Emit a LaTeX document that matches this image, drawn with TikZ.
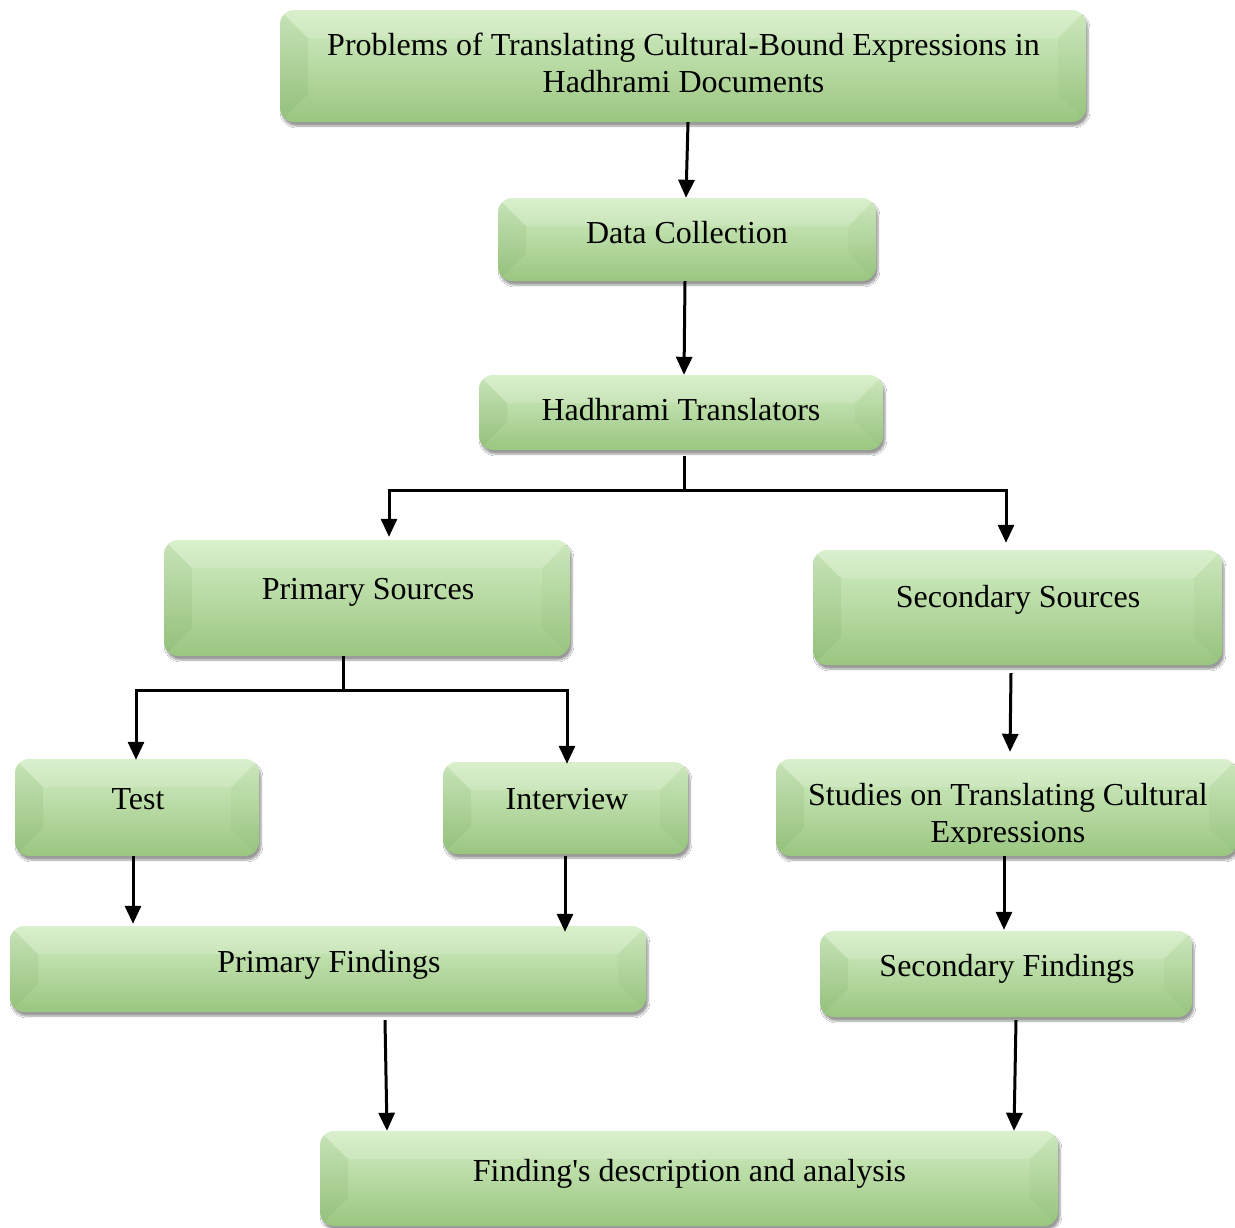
\documentclass[tikz,border=0pt]{standalone}
\usepackage{fontspec}
\setmainfont{Liberation Serif}
\usetikzlibrary{arrows.meta,shadows.blur}
\definecolor{gtop}{RGB}{212,238,197}
\definecolor{gbot}{RGB}{154,198,128}
\definecolor{gbev}{RGB}{90,140,70}
\tikzset{
  box/.style={rounded corners=14pt, top color=gtop, bottom color=gbot,
    draw=none, inner sep=0pt,
    blur shadow={shadow xshift=2pt,shadow yshift=-4pt,shadow blur steps=6,shadow opacity=40},
    path picture={
      \fill[sharp corners, gbev, opacity=0.10]
        (path picture bounding box.north west) -- ++(28pt,-28pt)
        -- ([xshift=28pt,yshift=28pt]path picture bounding box.south west)
        -- (path picture bounding box.south west) -- cycle;
      \fill[sharp corners, gbev, opacity=0.06]
        (path picture bounding box.north east) -- ++(-28pt,-28pt)
        -- ([xshift=-28pt,yshift=28pt]path picture bounding box.south east)
        -- (path picture bounding box.south east) -- cycle;
      \fill[sharp corners, white, opacity=0.15]
        (path picture bounding box.north west) -- (path picture bounding box.north east)
        -- ++(-28pt,-28pt) -- ([xshift=28pt,yshift=-28pt]path picture bounding box.north west) -- cycle;
    }},
  txt/.style={font=\fontsize{32}{37}\selectfont, align=center, inner sep=0pt},
  ln/.style={line width=3pt, line join=miter},
  arr/.style={ln, -{Triangle[length=18pt,width=16pt]}},
}
\begin{document}
\begin{tikzpicture}[x=1pt,y=-1pt]
\useasboundingbox[fill=white] (0,0) rectangle (1235,1227);

% boxes
\node[box, minimum width=806pt, minimum height=112pt] (top) at (683,66) {};
\node[txt, anchor=center] (top-t) at (683.5,63) {Problems of Translating Cultural-Bound Expressions in\\Hadhrami Documents};

\node[box, minimum width=378pt, minimum height=83pt] (data) at (687,239.5) {};
\node[txt, anchor=base] (data-t) at (687,243.5) {Data Collection};

\node[box, minimum width=404pt, minimum height=75pt] (hadh) at (681,412.5) {};
\node[txt, anchor=base] (hadh-t) at (681,420.5) {Hadhrami Translators};

\node[box, minimum width=406pt, minimum height=116pt] (ps) at (367,598) {};
\node[txt, anchor=base] (ps-t) at (368,599.5) {Primary Sources};

\node[box, minimum width=409pt, minimum height=115pt] (ss) at (1017.5,607.5) {};
\node[txt, anchor=base] (ss-t) at (1018,607.5) {Secondary Sources};

\node[box, minimum width=244pt, minimum height=97pt] (test) at (137,807.5) {};
\node[txt, anchor=base] (test-t) at (138,809.5) {Test};

\node[box, minimum width=245pt, minimum height=92pt] (intv) at (565.5,808) {};
\node[txt, anchor=base] (intv-t) at (567,809.5) {Interview};

\node[box, minimum width=461pt, minimum height=97pt] (stud) at (1006.5,807.5) {};
\begin{scope}
  \clip (770,760) rectangle (1235,843);
  \node[txt, anchor=center] (stud-t) at (1008,816) {Studies on Translating Cultural\\Expressions};
\end{scope}

\node[box, minimum width=636pt, minimum height=86pt] (pf) at (328,969) {};
\node[txt, anchor=base] (pf-t) at (329,972.5) {Primary Findings};

\node[box, minimum width=372pt, minimum height=86pt] (sf) at (1006,974) {};
\node[txt, anchor=base] (sf-t) at (1007,976.5) {Secondary Findings};

\node[box, minimum width=738pt, minimum height=95pt] (fin) at (689,1178.5) {};
\node[txt, anchor=base] (fin-t) at (689.5,1181.5) {Finding\textquotesingle s description and analysis};

% connectors
\draw[arr] ([xshift=5pt]top.south) -- ([xshift=-1pt]data.north);
\draw[arr] ([xshift=-2pt]data.south) -- ([xshift=3pt]hadh.north);

\coordinate (hj) at (684,490);
\draw[ln] ([xshift=3pt,yshift=-6pt]hadh.south) -- (hj);
\draw[arr] (hj) -| ([xshift=22pt,yshift=3pt]ps.north);
\draw[arr] (hj) -| ([xshift=-11.5pt,yshift=7pt]ss.north);

\coordinate (pj) at (343,690);
\draw[ln] ([xshift=-24pt]ps.south) -- (pj);
\draw[arr] (pj) -| ([xshift=-1pt,yshift=-1pt]test.north);
\draw[arr] (pj) -| ([xshift=1.5pt,yshift=-2pt]intv.north);

\draw[arr] ([xshift=-6.5pt,yshift=-8pt]ss.south) -- ([xshift=3.5pt,yshift=7pt]stud.north);
\draw[arr] ([xshift=-4pt]test.south) -- ([xshift=-195pt,yshift=2pt]pf.north);
\draw[arr] ([xshift=-0.5pt,yshift=-2pt]intv.south) -- ([xshift=237pt,yshift=-6pt]pf.north);
\draw[arr] ([xshift=-2.5pt]stud.south) -- ([xshift=-2pt,yshift=1pt]sf.north);
\draw[arr] ([xshift=57pt,yshift=-8pt]pf.south) -- ([xshift=-302pt]fin.north);
\draw[arr] ([xshift=10pt,yshift=-3pt]sf.south) -- ([xshift=325pt]fin.north);
\end{tikzpicture}
\end{document}
